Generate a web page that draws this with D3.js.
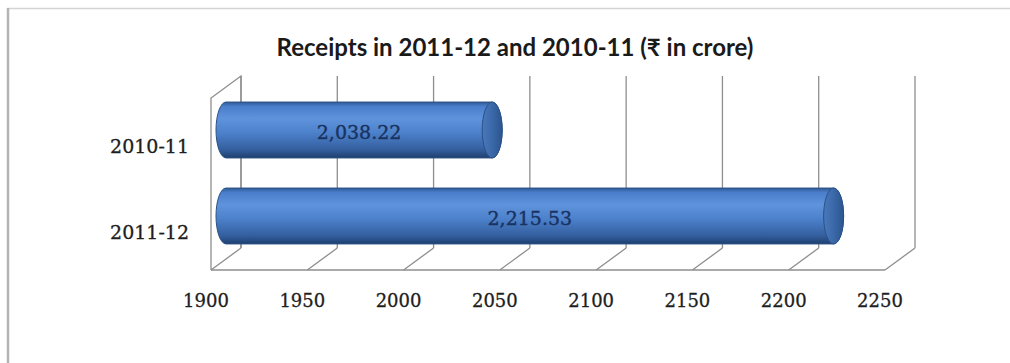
<!DOCTYPE html>
<html><head><meta charset="utf-8">
<script src="https://cdn.jsdelivr.net/npm/d3@7"></script>
<style>html,body{margin:0;padding:0;background:#fff;}svg{display:block;}</style>
</head><body>
<svg id="c" width="1010" height="363"></svg>
<script>
const categories = ["2010-11", "2011-12"];
const values = [2038.22, 2215.53];
const valueLabels = ["2,038.22", "2,215.53"];
const tickValues = [1900, 1950, 2000, 2050, 2100, 2150, 2200, 2250];
const title = "Receipts in 2011-12 and 2010-11 (\u20B9 in crore)";

(function () {
const svg = d3.select("#c");
const W = 1010, H = 363;
svg.append("rect").attr("width", W).attr("height", H).attr("fill", "#fff");
// outer frame
svg.append("line").attr("x1", 7).attr("x2", W).attr("y1", 8.5).attr("y2", 8.5).attr("stroke", "#d4d4d4").attr("stroke-width", 1.5);
svg.append("line").attr("x1", 8).attr("x2", 8).attr("y1", 8).attr("y2", H).attr("stroke", "#b4b4b4").attr("stroke-width", 2.5);

const DX = 30, DY = -22;
const x = d3.scaleLinear().domain([1900, 2250]).range([211, 885]);
const y = d3.scaleBand().domain(categories).range([98, 270]).paddingInner(0.35).paddingOuter(0.175);
const yTop = 98, yBot = 270;
const grid = "#8e8e8e";
const serif = "DejaVu Serif, Liberation Serif, serif";

const g = svg.append("g");
// left wall
g.append("path").attr("fill", "none").attr("stroke", grid).attr("stroke-width", 1.3)
  .attr("d", `M${x(1900)},${yBot} L${x(1900)},${yTop} L${x(1900)+DX},${yTop+DY} L${x(1900)+DX},${yBot+DY}`);
// back wall gridlines
g.selectAll("line.gv").data(tickValues).join("line").attr("class", "gv")
  .attr("x1", d => x(d) + DX).attr("x2", d => x(d) + DX)
  .attr("y1", yTop + DY).attr("y2", yBot + DY)
  .attr("stroke", grid).attr("stroke-width", 1.3);
// floor
g.append("line").attr("x1", x(1900)).attr("x2", x(2250)).attr("y1", yBot).attr("y2", yBot).attr("stroke", grid).attr("stroke-width", 1.3);
g.selectAll("line.fd").data(tickValues).join("line").attr("class", "fd")
  .attr("x1", d => x(d)).attr("x2", d => x(d) + DX)
  .attr("y1", yBot).attr("y2", yBot + DY)
  .attr("stroke", grid).attr("stroke-width", 1.3);

// gradients
const defs = svg.append("defs");
const bg = defs.append("linearGradient").attr("id", "body").attr("x1", 0).attr("x2", 0).attr("y1", 0).attr("y2", 1);
[[0, "#2f5a95"], [0.08, "#4a7ecb"], [0.3, "#5f93dc"], [0.55, "#4c81cb"], [0.85, "#345f9f"], [1, "#1f3f6e"]]
  .forEach(([o, c]) => bg.append("stop").attr("offset", o).attr("stop-color", c));
const cg = defs.append("linearGradient").attr("id", "cap").attr("x1", 0).attr("x2", 1).attr("y1", 0).attr("y2", 0);
[[0, "#4a78bb"], [0.5, "#3a68a8"], [1, "#2c5590"]]
  .forEach(([o, c]) => cg.append("stop").attr("offset", o).attr("stop-color", c));

const rx = 10;
const xm = v => x(v) + DX / 2;
const ym = c => y(c) + DY / 2;
const bars = g.selectAll("g.bar").data(categories).join("g").attr("class", "bar");
bars.append("path")
  .attr("d", (c, i) => {
    const x0 = xm(1900), x1 = xm(values[i]), t = ym(c), b = t + y.bandwidth(), ry = y.bandwidth() / 2;
    return `M${x0},${t} L${x1},${t} A${rx},${ry} 0 0 1 ${x1},${b} L${x0},${b} A${rx},${ry} 0 0 1 ${x0},${t} Z`;
  })
  .attr("fill", "url(#body)").attr("stroke", "#2b5185").attr("stroke-width", 1);
bars.append("ellipse")
  .attr("cx", (c, i) => xm(values[i])).attr("cy", c => ym(c) + y.bandwidth() / 2)
  .attr("rx", rx).attr("ry", y.bandwidth() / 2)
  .attr("fill", "url(#cap)").attr("stroke", "#2b5185").attr("stroke-width", 1);
bars.append("text")
  .attr("x", (c, i) => (xm(1900) + xm(values[i])) / 2)
  .attr("y", c => ym(c) + y.bandwidth() / 2 + 2)
  .attr("dominant-baseline", "central").attr("text-anchor", "middle")
  .attr("font-family", serif).attr("font-size", 19)
  .attr("fill", "#1a3260").attr("stroke", "#1a3260").attr("stroke-width", 0.35)
  .text((c, i) => valueLabels[i]);

// category labels
g.selectAll("text.cat").data(categories).join("text").attr("class", "cat")
  .attr("x", 189).attr("y", c => y(c) + y.bandwidth() / 2 + 5)
  .attr("text-anchor", "end").attr("dominant-baseline", "central")
  .attr("font-family", serif).attr("font-size", 19)
  .attr("fill", "#1e1e1e").attr("stroke", "#1e1e1e").attr("stroke-width", 0.3).text(c => c);

// x tick labels
g.selectAll("text.tk").data(tickValues).join("text").attr("class", "tk")
  .attr("x", d => x(d) - 5).attr("y", 300)
  .attr("text-anchor", "middle").attr("dominant-baseline", "central")
  .attr("font-family", serif).attr("font-size", 18)
  .attr("fill", "#1e1e1e").attr("stroke", "#1e1e1e").attr("stroke-width", 0.3).text(d => d);

// title
const tt = svg.append("text").attr("x", 515).attr("y", 46)
  .attr("text-anchor", "middle").attr("dominant-baseline", "central")
  .attr("font-family", "Lato, 'Noto Sans', 'DejaVu Sans', sans-serif").attr("font-weight", "bold")
  .attr("font-size", 20).attr("fill", "#1a1a1a").text(title);
const w = tt.node().getComputedTextLength();
if (w > 0) tt.attr("font-size", Math.max(14, Math.min(24, 20 * 506 / w)));
})();
</script>
</body></html>
